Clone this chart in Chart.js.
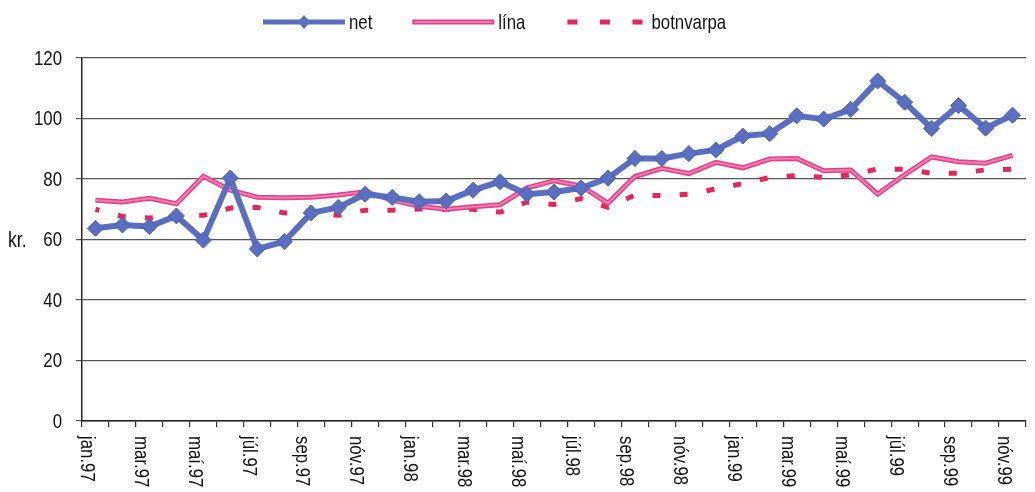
<!DOCTYPE html>
<html>
<head>
<meta charset="utf-8">
<script src="https://cdn.jsdelivr.net/npm/chart.js@4.4.1/dist/chart.umd.min.js"></script>
<style>
  html, body { margin: 0; padding: 0; background: #fff; }
  #wrap { width: 1035px; height: 492px; }
</style>
</head>
<body>
<div id="wrap"><canvas id="myChartLine"></canvas></div>
<script>
/* globals Chart:false */
const months = ['jan.97','feb.97','mar.97','apr.97','maí.97','jún.97','júl.97','ágú.97','sep.97','okt.97','nóv.97','des.97',
                'jan.98','feb.98','mar.98','apr.98','maí.98','jún.98','júl.98','ágú.98','sep.98','okt.98','nóv.98','des.98',
                'jan.99','feb.99','mar.99','apr.99','maí.99','jún.99','júl.99','ágú.99','sep.99','okt.99','nóv.99'];
const net = [63.7, 64.8, 64.3, 67.8, 59.8, 80.3, 56.9, 59.3, 68.8, 70.6, 75.0, 73.9,
             72.5, 72.7, 76.3, 79.1, 75.0, 75.7, 77.0, 80.3, 86.8, 86.8, 88.4, 89.6,
             94.2, 95.0, 100.9, 99.8, 103.0, 112.4, 105.4, 96.7, 104.3, 96.8, 101.1];
const lina = [73.0, 72.4, 73.6, 71.8, 80.9, 76.3, 74.0, 73.8, 74.0, 74.7, 75.8, 73.0,
              71.0, 70.0, 70.8, 71.5, 77.1, 79.4, 77.7, 72.0, 80.8, 83.5, 81.8, 85.5,
              83.7, 86.6, 86.8, 82.7, 83.0, 75.0, 81.4, 87.3, 85.7, 85.2, 87.8];
const botnvarpa = [70.0, 67.6, 67.1, 68.0, 68.0, 70.4, 70.6, 68.8, 69.0, 68.0, 69.7, 69.7,
                   70.1, 70.0, 70.0, 69.0, 72.4, 71.6, 73.5, 70.6, 74.7, 74.5, 75.0, 76.7,
                   78.5, 80.5, 81.1, 80.5, 81.4, 83.3, 83.2, 81.9, 81.9, 83.0, 83.2];
const yTicks = [0, 20, 40, 60, 80, 100, 120];

// condensed look: Liberation Sans squeezed horizontally
const FONT = "21px 'Liberation Sans', Arial, sans-serif";
const SQUEEZE = 0.8;
const BLUE = '#5a6ec2';
const PINK = '#e3408c';
const PINK_LIGHT = '#f07db2';
const RED = '#e8245e';

function text(ctx, s, x, y, align, rot) {
  ctx.save();
  ctx.translate(x, y);
  if (rot) ctx.rotate(rot);
  ctx.scale(SQUEEZE, 1);
  ctx.textAlign = align;
  ctx.textBaseline = 'middle';
  ctx.fillText(s, 0, 0);
  ctx.restore();
}

// rotated month labels, y labels, "kr." and the legend
const extras = {
  id: 'extras',
  afterDraw(chart) {
    const ctx = chart.ctx, x = chart.scales.x, y = chart.scales.y;
    ctx.save();
    ctx.font = FONT;
    ctx.fillStyle = '#111';
    months.forEach((lab, i) => {
      if (i % 2) return;
      text(ctx, lab, x.getPixelForValue(i) - 9, y.bottom + 15, 'left', Math.PI / 2);
    });
    yTicks.forEach(v => text(ctx, String(v), 62, y.getPixelForValue(v) + 1, 'right'));
    ctx.save();
    ctx.font = "22px 'Liberation Sans', Arial, sans-serif";
    text(ctx, 'kr.', 8, y.getPixelForValue(60) + 1, 'left');
    ctx.restore();

    // legend
    let lx = 263;
    const ly = 22;
    chart.data.datasets.filter(d => d.legend).forEach(d => {
      ctx.save();
      ctx.lineCap = 'butt';
      if (d.legend === 'net') {
        ctx.strokeStyle = BLUE; ctx.lineWidth = 5;
        ctx.beginPath(); ctx.moveTo(lx, ly); ctx.lineTo(lx + 82, ly); ctx.stroke();
        ctx.fillStyle = BLUE;
        ctx.beginPath();
        ctx.moveTo(lx + 41, ly - 7); ctx.lineTo(lx + 47, ly); ctx.lineTo(lx + 41, ly + 7); ctx.lineTo(lx + 35, ly);
        ctx.closePath(); ctx.fill();
      } else if (d.legend === 'lina') {
        ctx.strokeStyle = PINK; ctx.lineWidth = 5;
        ctx.beginPath(); ctx.moveTo(lx, ly); ctx.lineTo(lx + 82, ly); ctx.stroke();
        ctx.strokeStyle = PINK_LIGHT; ctx.lineWidth = 2;
        ctx.beginPath(); ctx.moveTo(lx + 2, ly); ctx.lineTo(lx + 80, ly); ctx.stroke();
      } else {
        ctx.strokeStyle = RED; ctx.lineWidth = 5;
        ctx.setLineDash([10, 22.5]);
        ctx.beginPath(); ctx.moveTo(lx + 2, ly); ctx.lineTo(lx + 82, ly); ctx.stroke();
      }
      ctx.restore();
      ctx.fillStyle = '#111';
      text(ctx, d.label, lx + 86, ly + 1, 'left');
      lx += 86 + ctx.measureText(d.label).width * SQUEEZE + 40;
    });
    ctx.restore();
  }
};

const myChartLine = document.getElementById('myChartLine');
if (myChartLine) {
  new Chart(myChartLine, {
    type: 'line',
    data: {
      labels: months,
      datasets: [{
        label: 'net',
        legend: 'net',
        data: net,
        borderColor: BLUE,
        backgroundColor: BLUE,
        borderWidth: 6,
        pointStyle: 'rectRot',
        pointRadius: 8,
        pointBorderColor: '#4c5fb0',
        pointBorderWidth: 1,
        order: 0
      }, {
        label: 'lína',
        data: lina,
        borderColor: PINK_LIGHT,
        borderWidth: 2,
        pointRadius: 0,
        order: 1
      }, {
        label: 'lína',
        legend: 'lina',
        data: lina,
        borderColor: PINK,
        borderWidth: 5,
        pointRadius: 0,
        order: 2
      }, {
        label: 'botnvarpa',
        legend: 'botn',
        data: botnvarpa,
        borderColor: RED,
        borderWidth: 5,
        borderDash: [8, 19.2],
        borderDashOffset: 4,
        borderCapStyle: 'butt',
        pointRadius: 0,
        order: 3
      }]
    },
    options: {
      responsive: true,
      maintainAspectRatio: false,
      animation: false,
      layout: { padding: { top: 58, left: 0, right: 0, bottom: 0 } },
      plugins: { legend: { display: false }, tooltip: { enabled: false } },
      elements: { line: { tension: 0 } },
      scales: {
        x: {
          offset: true,
          grid: { offset: true, drawOnChartArea: false, drawTicks: true, tickLength: 6, color: '#333', lineWidth: 1.2 },
          border: { display: true, color: '#222', width: 1.5 },
          ticks: { display: false },
          afterFit(s) { s.height = 71; }
        },
        y: {
          min: 0,
          max: 120,
          afterBuildTicks(s) { s.ticks = yTicks.map(v => ({ value: v })); },
          grid: { color: '#555', lineWidth: 1.2, drawTicks: true, tickLength: 6 },
          border: { display: true, color: '#222', width: 1.5 },
          ticks: { display: false },
          afterFit(s) { s.width = 82; }
        }
      }
    },
    plugins: [extras]
  });
}
</script>
</body>
</html>
